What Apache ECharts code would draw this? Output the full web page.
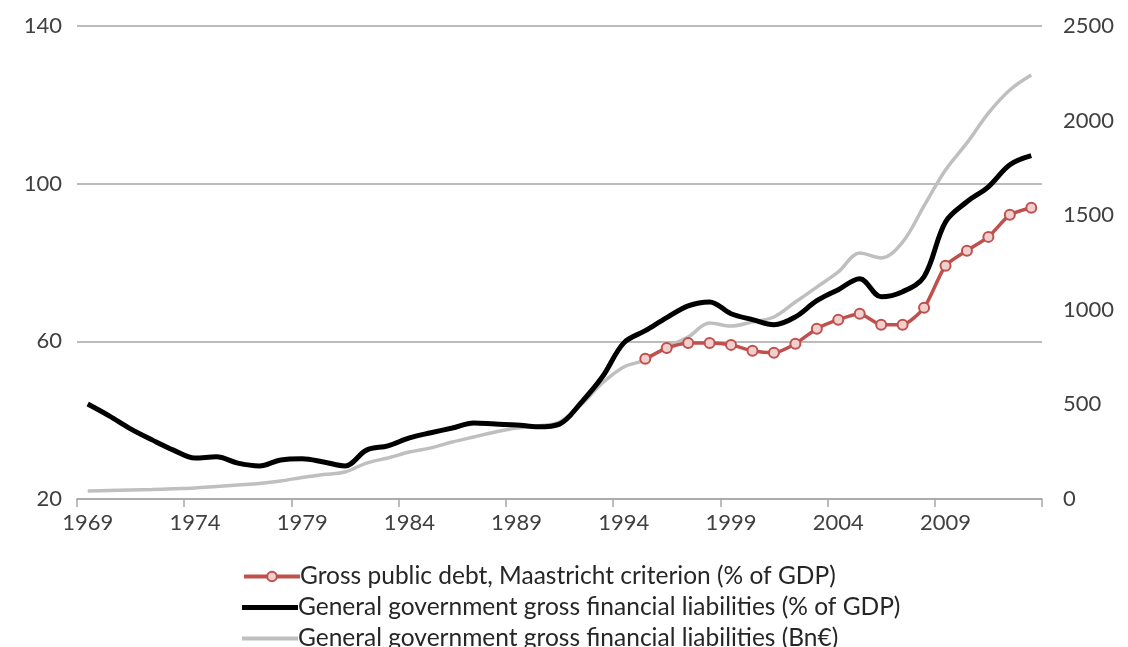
<!DOCTYPE html>
<html>
<head>
<meta charset="utf-8">
<script src="https://cdn.jsdelivr.net/npm/echarts@6/dist/echarts.min.js"></script>
<style>html,body{margin:0;padding:0;background:#fff}#c{width:1128px;height:647px}</style>
</head>
<body>
<div id="c"></div>
<script>
var years = [];
for (var y = 1969; y <= 2013; y++) years.push(String(y));

// General government gross financial liabilities (% of GDP), 1969-2013
var liabPct = [44.1, 41.1, 37.8, 35.0, 32.4, 30.4, 30.7, 29.1, 28.4, 29.9,
               30.2, 29.4, 28.4, 32.4, 33.5, 35.5, 36.8, 38.0, 39.3, 39.0,
               38.8, 38.3, 39.0, 44.4, 51.0, 59.6, 62.7, 66.0, 69.0, 70.0,
               67.0, 65.5, 64.2, 66.2, 70.3, 73.1, 75.9, 71.3, 72.6, 76.4,
               90.3, 95.4, 99.2, 104.8, 107.1];

// General government gross financial liabilities (Bn€), 1969-2013
var liabBn = [42, 45, 48, 50, 54, 58, 66, 74, 82, 95,
              114, 129, 143, 190, 217, 248, 270, 301, 328, 354,
              375, 386, 407, 497, 613, 698, 735, 803, 856, 930,
              914, 936, 962, 1041, 1120, 1200, 1300, 1274, 1358, 1549,
              1739, 1882, 2040, 2162, 2241];

// Gross public debt, Maastricht criterion (% of GDP), 1995-2013
var maastrichtStart = 1995;
var maastricht = [55.6, 58.3, 59.6, 59.6, 59.1, 57.6, 57.1, 59.4, 63.2, 65.5,
                  67.0, 64.2, 64.2, 68.5, 79.2, 83.0, 86.5, 92.1, 93.9];

var leftTicks = {min: 20, max: 140, interval: 40};
var rightTicks = {min: 0, max: 2500, interval: 500};

var names = ['Gross public debt, Maastricht criterion (% of GDP)',
             'General government gross financial liabilities (% of GDP)',
             'General government gross financial liabilities (Bn\u20ac)'];

var redData = years.map(function (yr) {
  var i = Number(yr) - maastrichtStart;
  return (i >= 0 && i < maastricht.length) ? maastricht[i] : null;
});

var FONT = 'Lato';
var legendText = {fontFamily: FONT, fontSize: 24.5, color: '#262626', padding: [0,0,0,-5]};
function leg(name, top, icon, h) {
  var o = {orient: 'vertical', left: 237, top: top, itemWidth: 56, itemHeight: h,
           data: [{name: name, icon: icon}], textStyle: legendText};
  if (!icon) { o.data = [name]; o.lineStyle = {width: 4}; }
  return o;
}

var chart = echarts.init(document.getElementById('c'));
chart.setOption({
  animation: false,
  backgroundColor: '#fff',
  grid: {left: 77, right: 86, top: 26, bottom: 148, containLabel: false},
  legend: [
    leg(names[0], 559, null, 12),
    leg(names[1], 590, 'rect', 5),
    leg(names[2], 621, 'rect', 4)
  ],
  xAxis: {
    type: 'category', data: years, boundaryGap: true,
    axisLine: {lineStyle: {color: '#a6a6a6', width: 1.5}},
    axisTick: {show: true, interval: 4, length: 8, lineStyle: {color: '#a6a6a6', width: 1.5}},
    axisLabel: {interval: 4, fontFamily: FONT, fontSize: 22, color: '#404040', margin: 13},
    splitLine: {show: false}
  },
  yAxis: [{
    type: 'value', min: leftTicks.min, max: leftTicks.max, interval: leftTicks.interval,
    axisLine: {show: false}, axisTick: {show: false},
    axisLabel: {fontFamily: FONT, fontSize: 22, color: '#404040', margin: 15},
    splitLine: {lineStyle: {color: '#a6a6a6', width: 1.5}}
  }, {
    type: 'value', min: rightTicks.min, max: rightTicks.max, interval: rightTicks.interval,
    axisLine: {show: false}, axisTick: {show: false},
    axisLabel: {fontFamily: FONT, fontSize: 22, color: '#404040', margin: 21,
                formatter: function (v) { return String(v); }},
    splitLine: {show: false}
  }],
  series: [{
    name: names[2], type: 'line', yAxisIndex: 1, data: liabBn, smooth: 0.35,
    showSymbol: false, symbol: 'none', z: 2,
    lineStyle: {color: '#bfbfbf', width: 3.5}, itemStyle: {color: '#bfbfbf'}
  }, {
    name: names[1], type: 'line', yAxisIndex: 0, data: liabPct, smooth: 0.35,
    showSymbol: false, symbol: 'none', z: 3,
    lineStyle: {color: '#000', width: 5}, itemStyle: {color: '#000'}
  }, {
    name: names[0], type: 'line', yAxisIndex: 0, data: redData, smooth: 0.2,
    symbol: 'circle', symbolSize: 10, showSymbol: true, z: 4,
    lineStyle: {color: '#c0504d', width: 3.5},
    itemStyle: {color: '#f0d0cf', borderColor: '#c0504d', borderWidth: 2}
  }]
});
</script>
</body>
</html>
